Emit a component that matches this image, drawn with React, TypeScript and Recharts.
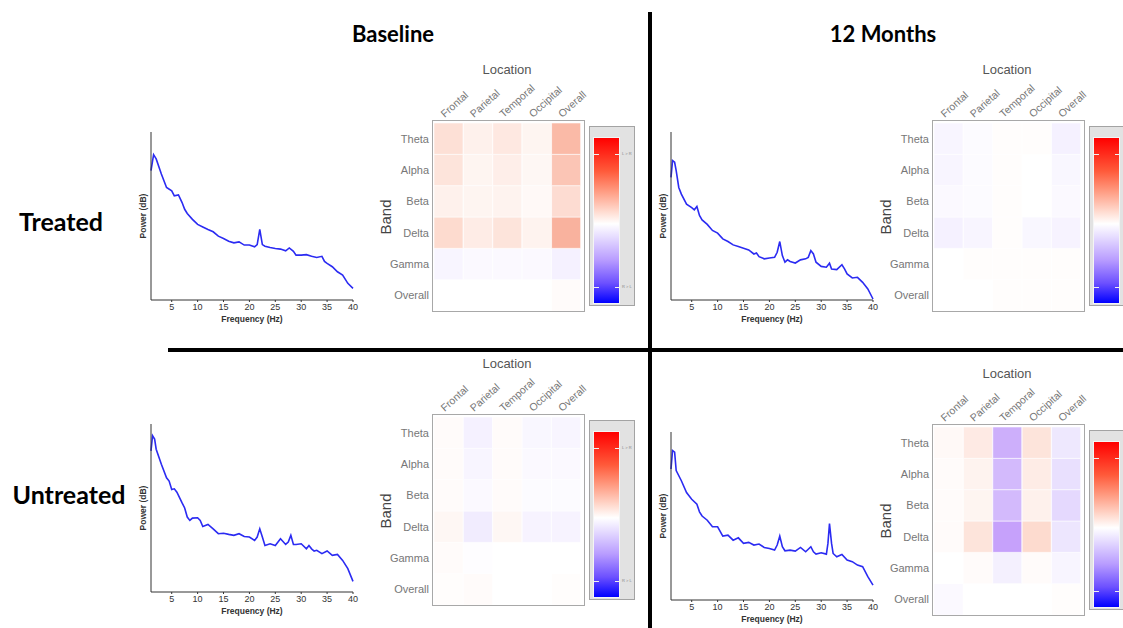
import React from "react";
import { LineChart, Line, XAxis, YAxis, BarChart, Bar, Cell } from "recharts";

const LOCATIONS = ["Frontal", "Parietal", "Temporal", "Occipital", "Overall"];
const BANDS = ["Theta", "Alpha", "Beta", "Delta", "Gamma", "Overall"]; // top to bottom
const FREQ_TICKS = [5, 10, 15, 20, 25, 30, 35, 40];

// power spectra: [frequency Hz, relative power]
const baselineTreated: [number, number][] = [
  [1, 77], [1.5, 86.5], [2, 84], [3, 75], [4, 67], [5, 65], [5.5, 62], [6.3, 62.5], [7, 58], [7.5, 54],
  [8, 51.5], [9, 48], [10, 45], [11, 43.5], [12, 42], [13, 40.6], [14, 38], [15, 36.6], [16, 35], [17, 34],
  [18, 34.6], [19, 32.7], [20, 32.7], [21, 31.7], [21.5, 33], [22, 42], [22.5, 33], [23, 32], [24, 31.3],
  [25, 30.7], [26, 30.3], [27, 29.3], [27.7, 31], [28.5, 29], [29, 26.7], [30, 26.7], [31, 27], [32, 26],
  [33, 25.3], [34, 26], [34.5, 23], [35, 21.8], [36, 19.8], [37, 16.8], [38, 14.9], [39, 9.9], [40, 6.9],
];

const monthsTreated: [number, number][] = [
  [1, 73], [1.3, 83], [1.7, 82], [2, 77], [2.5, 67], [3, 63], [4, 57], [5, 55], [5.5, 53.7], [6, 55.7],
  [6.5, 50.3], [7, 47.7], [8, 45], [9, 41.4], [10, 39.8], [11, 36.4], [12, 34.8], [13, 32.8], [14, 31.8],
  [15, 30.8], [16, 29.8], [17, 27.4], [17.5, 28], [18, 25.8], [19, 24.5], [20, 25], [21, 25.4], [21.5, 28.4],
  [22, 34.8], [22.5, 26.4], [23, 22.5], [23.5, 23.9], [24, 22.9], [25, 22], [26, 23.9], [27, 24.5],
  [27.5, 25.4], [28, 29.4], [28.5, 27.4], [29, 22.5], [30, 20], [31, 19.5], [31.6, 21.9], [32, 18.5],
  [33, 18.1], [34, 21], [34.5, 18.5], [35, 15.5], [36, 13.1], [37, 13.5], [38, 10.5], [39, 6.6], [40, 0.6],
];

const baselineUntreated: [number, number][] = [
  [1, 84], [1.3, 93], [1.7, 91], [2, 85], [3, 76], [4, 68], [4.5, 66], [5, 61], [5.5, 61.4], [6, 59.4],
  [7, 53], [7.5, 50], [8, 44.6], [8.5, 42.6], [9, 44], [10, 44.2], [10.5, 42.6], [11, 39], [12, 40.2],
  [13, 37.6], [14, 34.7], [15, 35], [16, 34.3], [17, 33.7], [18, 34.7], [19, 33], [20, 32.7], [21, 30.7],
  [21.5, 32.7], [22, 37.6], [22.5, 32.7], [23, 27.7], [24, 28.7], [25, 27.7], [26, 31.7], [27, 28.3],
  [27.5, 29.7], [28, 33.7], [28.5, 28.3], [29, 28.3], [30, 28.7], [31, 25.7], [31.5, 27.7], [32, 25.7],
  [32.5, 24.4], [33, 24.8], [34, 22.8], [35, 24.4], [36, 21.8], [37, 22.4], [38, 18.8], [39, 13.9], [40, 6.3],
];

const monthsUntreated: [number, number][] = [
  [1, 78], [1.3, 89], [1.7, 88], [2, 77], [3, 71], [4, 64], [5, 60], [6, 57], [6.5, 52.5], [7, 50],
  [8, 47.5], [9, 43.6], [10, 43.6], [11, 38], [12, 38.6], [13, 35.6], [14, 37], [15, 33.7], [16, 34.3],
  [17, 32.7], [18, 33.3], [19, 31.3], [20, 30.7], [21, 29.7], [21.5, 32.7], [22, 38], [22.5, 31.7],
  [23, 29.3], [24, 29.7], [25, 29.1], [26, 31.3], [27, 28.7], [28, 31.7], [28.5, 28.7], [29, 27.3],
  [30, 28.1], [31, 27.3], [31.3, 33.7], [31.6, 45.5], [32, 33.7], [32.3, 27.7], [33, 25.7], [34, 27.1],
  [35, 23.8], [36, 22.8], [37, 20.8], [38, 19.8], [39, 13.9], [40, 8.9],
];

// asymmetry per band (rows, top to bottom) x location (columns); + = L > R, - = R > L
const baselineTreatedCells = [
  [0.15, 0.07, 0.11, 0.05, 0.36],
  [0.13, 0.05, 0.08, 0.04, 0.3],
  [0.07, 0.05, 0.06, 0.03, 0.17],
  [0.18, 0.09, 0.13, 0.06, 0.4],
  [-0.05, -0.03, -0.03, -0.03, -0.07],
  [0, 0, 0, 0, 0.02],
];
const monthsTreatedCells = [
  [-0.05, -0.02, 0.01, 0.01, -0.07],
  [-0.05, -0.02, 0.01, 0, -0.04],
  [-0.03, -0.02, 0.01, 0, -0.03],
  [-0.07, -0.05, 0.01, -0.04, -0.06],
  [0, 0.01, 0.01, 0.01, 0.01],
  [0, 0, 0.01, 0.01, 0.01],
];
const baselineUntreatedCells = [
  [0.02, -0.07, 0.02, -0.04, -0.05],
  [0.02, -0.05, 0.02, -0.03, -0.03],
  [0.02, -0.03, 0.02, -0.02, -0.02],
  [0.04, -0.1, 0.04, -0.06, -0.06],
  [0.02, -0.01, 0, 0, 0],
  [0.01, 0.02, 0, 0, 0.01],
];
const monthsUntreatedCells = [
  [0.03, 0.1, -0.38, 0.13, -0.12],
  [0.02, 0.06, -0.33, 0.09, -0.16],
  [0.02, 0.05, -0.33, 0.07, -0.19],
  [0.02, 0.13, -0.44, 0.18, -0.13],
  [0, 0.02, -0.08, 0.02, -0.05],
  [-0.03, 0, 0, 0, 0.01],
];

const POS_STOPS: [number, number[]][] = [[0, [255, 255, 255]], [0.15, [253, 224, 214]], [0.5, [248, 160, 136]], [1, [255, 0, 0]]];
const NEG_STOPS: [number, number[]][] = [[0, [255, 255, 255]], [0.15, [234, 226, 254]], [0.5, [190, 148, 250]], [1, [0, 0, 255]]];

function cellColor(v: number) {
  const stops = v >= 0 ? POS_STOPS : NEG_STOPS;
  const a = Math.min(1, Math.abs(v));
  for (let i = 1; i < stops.length; i++) {
    const [t0, c0] = stops[i - 1];
    const [t1, c1] = stops[i];
    if (a <= t1) {
      const k = (a - t0) / (t1 - t0);
      const c = c0.map((x, j) => Math.round(x + (c1[j] - x) * k));
      return `rgb(${c[0]},${c[1]},${c[2]})`;
    }
  }
  return "rgb(255,0,0)";
}

const SANS = "'Liberation Sans', Arial, sans-serif";

function Spectrum({ x, y, data }: { x: number; y: number; data: [number, number][] }) {
  // x, y: top-left corner of plot area
  const W = 202, H = 168, ML = 20, MT = 4, MB = 30, MR = 8;
  const rows = data.map(([f, p]) => ({ f, p }));
  return (
    <>
      <div style={{ position: "absolute", left: x - ML, top: y - MT }}>
        <LineChart width={W + ML + MR} height={H + MT + MB} data={rows} margin={{ top: MT, right: MR, left: 0, bottom: 0 }}>
          <XAxis
            dataKey="f"
            type="number"
            domain={[1, 40]}
            ticks={FREQ_TICKS}
            interval={0}
            height={MB}
            tickSize={2}
            tickMargin={2}
            tick={{ fontSize: 9, fill: "#333", fontFamily: SANS }}
            axisLine={{ stroke: "#333" }}
            tickLine={{ stroke: "#333" }}
          />
          <YAxis type="number" domain={[0, 100]} width={ML} tick={false} tickLine={false} axisLine={{ stroke: "#333" }} />
          <Line type="linear" dataKey="p" stroke="#2b2bf2" strokeWidth={1.6} dot={false} isAnimationActive={false} />
        </LineChart>
      </div>
      <div style={{ position: "absolute", left: x + W / 2, top: y + H + 19, transform: "translate(-50%,-50%)", fontFamily: SANS, fontWeight: "bold", fontSize: 8.5, color: "#333", whiteSpace: "nowrap" }}>
        Frequency (Hz)
      </div>
      <div style={{ position: "absolute", left: x - 8, top: y + 84, transform: "translate(-50%,-50%) rotate(-90deg)", fontFamily: SANS, fontWeight: "bold", fontSize: 8.5, color: "#333", whiteSpace: "nowrap" }}>
        Power (dB)
      </div>
    </>
  );
}

function ColumnTick(props: any) {
  const { x, payload } = props;
  const bx = x - 4;
  const by = 45;
  return (
    <text x={bx} y={by} transform={`rotate(-42, ${bx}, ${by})`} fontSize={10.5} fill="#777" fontFamily={SANS} textAnchor="start">
      {payload.value}
    </text>
  );
}

function ColorBar({ x, y, labels }: { x: number; y: number; labels: boolean }) {
  const dash = (top: number, label: string) => (
    <>
      <div style={{ position: "absolute", left: 4, top, width: 5, height: 1, background: "#f0f0f0" }} />
      <div style={{ position: "absolute", left: 25, top, width: 5, height: 1, background: "#f0f0f0" }} />
      {labels && (
        <div style={{ position: "absolute", left: 32, top: top - 3, fontSize: 4, color: "#888", fontFamily: SANS, whiteSpace: "nowrap" }}>{label}</div>
      )}
    </>
  );
  return (
    <div style={{ position: "absolute", left: x, top: y, width: 44, height: 178, background: "#e2e2e2", border: "1.5px solid #a3a3a3" }}>
      <div
        style={{
          position: "absolute", left: 3, top: 10, width: 25, height: 165, border: "0.5px solid #f4f4f4",
          background: "linear-gradient(to bottom, #ff0000 0%, #ff5a3a 20%, #ff9a80 32%, #ffd8cc 44%, #ffffff 52%, #e6dcff 60%, #b89cff 74%, #6c50ff 88%, #0000ff 100%)",
        }}
      />
      {dash(27, "L > R")}
      {dash(160, "R > L")}
    </div>
  );
}

function BandMap({ x, y, cells, labels }: { x: number; y: number; cells: number[][]; labels: boolean }) {
  // x, y: top-left corner of frame
  const cx = x + 2, cy = y + 3, CW = 147, CH = 188, YW = 60, XH = 50, XR = 34;
  const rows = LOCATIONS.map((loc) => {
    const r: any = { loc };
    BANDS.forEach((_, i) => (r[`b${i}`] = 1));
    return r;
  });
  const stackOrder = [5, 4, 3, 2, 1, 0];
  return (
    <>
      <div style={{ position: "absolute", left: x, top: y, width: 151, height: 190, border: "1.5px solid #a8a8a8" }} />
      <div style={{ position: "absolute", left: cx - YW, top: cy - XH }}>
        <BarChart width={YW + CW + XR} height={XH + CH} data={rows} margin={{ top: 0, right: XR, left: 0, bottom: 0 }} barCategoryGap={0} barGap={0}>
          <XAxis dataKey="loc" type="category" orientation="top" height={XH} axisLine={false} tickLine={false} interval={0} tick={<ColumnTick />} />
          <YAxis
            type="number"
            domain={[0, 6]}
            ticks={[0.5, 1.5, 2.5, 3.5, 4.5, 5.5]}
            tickFormatter={(v: number) => BANDS[5 - Math.floor(v)]}
            width={YW}
            axisLine={false}
            tickLine={false}
            tickSize={3}
            tickMargin={2}
            tick={{ fontSize: 11, fill: "#777", fontFamily: SANS }}
          />
          {stackOrder.map((b) => (
            <Bar key={b} dataKey={`b${b}`} stackId="m" isAnimationActive={false} stroke="rgba(255,255,255,0.7)" strokeWidth={0.8}>
              {LOCATIONS.map((loc, i) => (
                <Cell key={loc} fill={cellColor(cells[b][i])} />
              ))}
            </Bar>
          ))}
        </BarChart>
      </div>
      <div style={{ position: "absolute", left: x + 75, top: y - 51, transform: "translate(-50%,-50%)", fontFamily: SANS, fontSize: 13, color: "#555", whiteSpace: "nowrap" }}>
        Location
      </div>
      <div style={{ position: "absolute", left: x - 47, top: y + 97, transform: "translate(-50%,-50%) rotate(-90deg)", fontFamily: SANS, fontSize: 15, color: "#444", whiteSpace: "nowrap" }}>
        Band
      </div>
      <ColorBar x={x + 157} y={y + 6} labels={labels} />
    </>
  );
}

const heading: React.CSSProperties = {
  position: "absolute", transform: "translate(-50%,-50%)", fontFamily: "Lato, sans-serif", fontWeight: "bold", color: "#000", whiteSpace: "nowrap",
};

export default function App() {
  return (
    <div style={{ position: "fixed", left: 0, top: 0, width: 1123, height: 628, background: "#fff", overflow: "hidden" }}>
      <div style={{ ...heading, left: 393, top: 33, fontSize: 22 }}>Baseline</div>
      <div style={{ ...heading, left: 883, top: 33, fontSize: 22 }}>12 Months</div>
      <div style={{ ...heading, left: 61, top: 221, fontSize: 25 }}>Treated</div>
      <div style={{ ...heading, left: 69, top: 494, fontSize: 25 }}>Untreated</div>

      <div style={{ position: "absolute", left: 648, top: 12, width: 4, height: 616, background: "#000" }} />
      <div style={{ position: "absolute", left: 168, top: 348, width: 955, height: 4, background: "#000" }} />

      <Spectrum x={151} y={132} data={baselineTreated} />
      <BandMap x={432} y={120} cells={baselineTreatedCells} labels />

      <Spectrum x={671} y={132} data={monthsTreated} />
      <BandMap x={932} y={120} cells={monthsTreatedCells} labels={false} />

      <Spectrum x={151} y={424} data={baselineUntreated} />
      <BandMap x={432} y={414} cells={baselineUntreatedCells} labels />

      <Spectrum x={671} y={432} data={monthsUntreated} />
      <BandMap x={932} y={424} cells={monthsUntreatedCells} labels={false} />
    </div>
  );
}
